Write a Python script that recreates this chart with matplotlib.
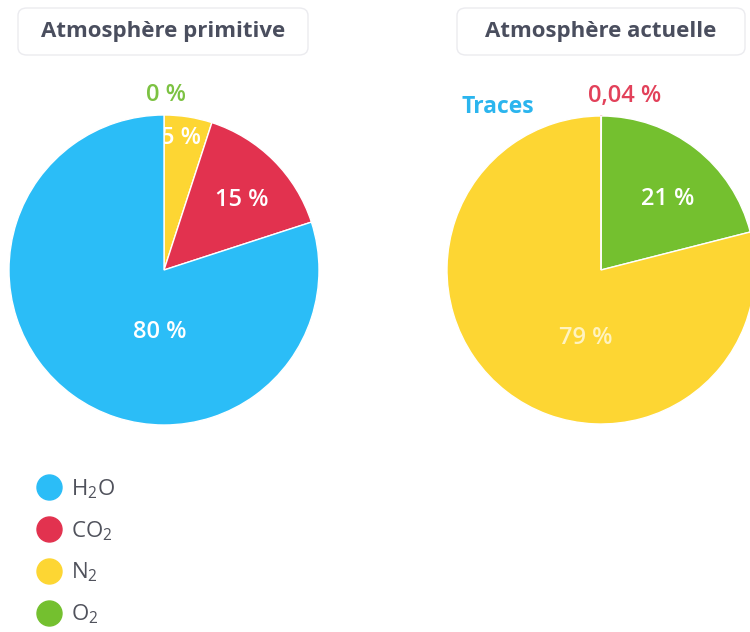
import matplotlib.pyplot as plt
from matplotlib.lines import Line2D
from matplotlib.patches import FancyBboxPatch

plt.rcParams["font.family"] = ["Open Sans", "DejaVu Sans"]
plt.rcParams["mathtext.default"] = "regular"

# gases, legend order
gases = ["H$_2$O", "CO$_2$", "N$_2$", "O$_2$"]
colors = {"H$_2$O": "#2BBDF7", "CO$_2$": "#E2324F", "N$_2$": "#FDD633", "O$_2$": "#74C02F"}

# primitive atmosphere, clockwise from the top
prim_gases = ["O$_2$", "N$_2$", "CO$_2$", "H$_2$O"]
prim_values = [0, 5, 15, 80]

# present atmosphere, clockwise from the top
curr_gases = ["CO$_2$", "O$_2$", "N$_2$", "H$_2$O"]
curr_values = [0.04, 21, 79, 0]

titles = ["Atmosphère primitive", "Atmosphère actuelle"]

W, H = 750, 632
fig = plt.figure(figsize=(W / 100, H / 100), dpi=100)
fig.patch.set_facecolor("white")


def pie_axes(cx, cy, r):
    ax = fig.add_axes([(cx - r) / W, (H - cy - r) / H, 2 * r / W, 2 * r / H])
    ax.axis("off")
    return ax


def fmt(v):
    s = "{:g}".format(v).replace(".", ",")
    return s + " %"


def draw_pie(ax, names, values):
    wedges, _ = ax.pie(values, colors=[colors[n] for n in names], startangle=90,
                       counterclock=False, radius=1,
                       wedgeprops=dict(edgecolor="white", linewidth=1))
    for w, n, v in zip(wedges, names, values):
        if 0 < v < 1:
            w.set_edgecolor(colors[n])
            w.set_linewidth(1.2)
    # pie() resets the limits, so fix them afterwards
    ax.set_xlim(-1, 1)
    ax.set_ylim(-1, 1)
    ax.set_aspect("equal")
    return wedges


lab_kw = dict(ha="center", va="center", fontsize=17, fontweight="semibold")

# ---- primitive ----
ax1 = pie_axes(164, 270, 155)
w1 = draw_pie(ax1, prim_gases, prim_values)
w1[3].set_zorder(4)  # blue wedge covers the left of the "5 %" label
ax1.text(-0.03, -0.40, fmt(prim_values[3]), color="white", zorder=5, **lab_kw)
ax1.text(0.50, 0.45, fmt(prim_values[2]), color="white", zorder=5, **lab_kw)
ax1.text(0.11, 0.85, fmt(prim_values[1]), color="white", zorder=3, **lab_kw)
ax1.text(0.01, 1.13, fmt(prim_values[0]), color="#7CC242", zorder=5, **lab_kw)

# ---- present ----
ax2 = pie_axes(601, 270, 154)
draw_pie(ax2, curr_gases, curr_values)
ax2.text(0.43, 0.46, fmt(curr_values[1]), color="white", zorder=5, **lab_kw)
ax2.text(-0.10, -0.44, fmt(curr_values[2]), color="#FFF3C0", zorder=5, **lab_kw)
ax2.text(0.155, 1.13, fmt(curr_values[0]), color="#E2415A", zorder=5, **lab_kw)
ax2.text(-0.67, 1.06, "Traces", color="#2BB5EE", ha="center", va="center",
         fontsize=16.5, fontweight="bold", zorder=5)

# ---- title boxes ----
for (x0, x1), title in zip([(18, 308), (457, 745)], titles):
    box = FancyBboxPatch((x0 / W, 1 - 55 / H), (x1 - x0) / W, 47 / H,
                         boxstyle="round,pad=0,rounding_size=0.012",
                         transform=fig.transFigure, fc="white", ec="#EBEBEF", lw=1)
    fig.patches.append(box)
    fig.text((x0 + x1) / 2 / W, 1 - 32 / H, title, ha="center", va="center",
             fontsize=16, fontweight="bold", color="#4A4E5E")

# ---- legend ----
handles = [Line2D([], [], ls="", marker="o", markersize=18, color=colors[g]) for g in gases]
fig.legend(handles, gases, loc="upper left", bbox_to_anchor=(22 / W, 1 - 466 / H),
           frameon=False, fontsize=16, labelspacing=0.82, handletextpad=0.3,
           handlelength=1.4, labelcolor="#50525C", borderpad=0)

fig.savefig("out.png", dpi=100, facecolor="white")
